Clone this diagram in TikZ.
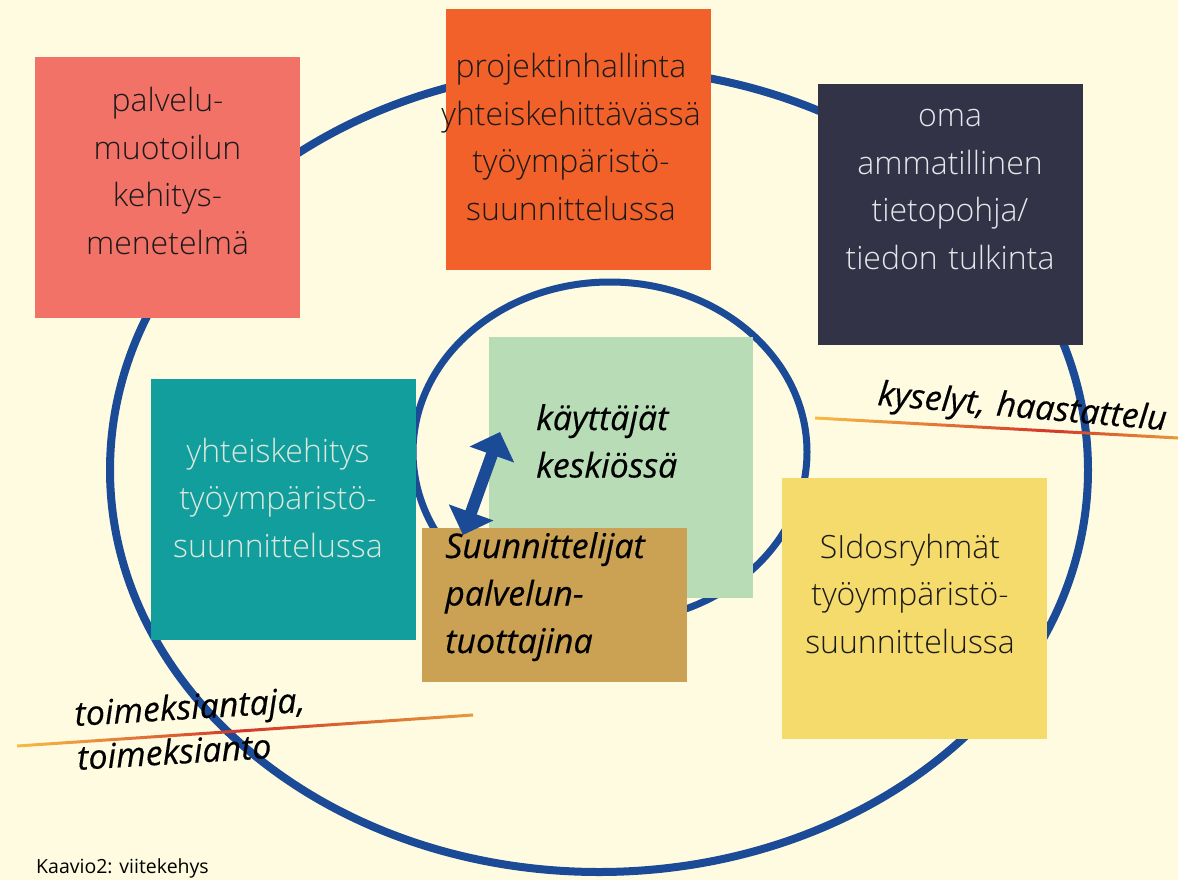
\documentclass[tikz,border=0pt]{standalone}
\usepackage{fontspec}
\usetikzlibrary{arrows.meta}
\setmainfont{Open Sans}
\IfFontExistsTF{Open Sans Light}{\newfontfamily\boxfont{Open Sans Light}}{\newfontfamily\boxfont{Open Sans}}
\newfontfamily\labelfont{Open Sans}[FakeBold=0.4]

\definecolor{paper}{HTML}{FEFBE0}
\definecolor{ringblue}{HTML}{1B4A97}
\definecolor{salmon}{HTML}{F37268}
\definecolor{tangerine}{HTML}{F26129}
\definecolor{slate}{HTML}{333348}
\definecolor{tealbox}{HTML}{129E9C}
\definecolor{mint}{HTML}{B8DDB6}
\definecolor{ochre}{HTML}{CBA253}
\definecolor{butter}{HTML}{F5DA6C}
\definecolor{ink}{HTML}{1A1A1A}
\definecolor{pale}{HTML}{E6E6EA}
\definecolor{paleteal}{HTML}{DCE8DC}
\definecolor{lnyellow}{HTML}{F7BC45}
\definecolor{lnred}{HTML}{D2372A}
\definecolor{lnorange}{HTML}{E69A3A}

\tikzset{
  ring/.style={draw=ringblue, line width=8pt},
  innerring/.style={draw=ringblue, line width=7pt},
  tile/.style={rectangle, inner sep=0pt, outer sep=0pt, draw=none,
    minimum width=265pt, minimum height=261pt},
  boxtext/.style={anchor=base, align=center, text width=320pt, inner sep=0pt,
    font=\boxfont\fontsize{32}{47.5}\selectfont},
  itlabel/.style={anchor=base west, align=left, text width=340pt, inner sep=0pt,
    text=black, font=\labelfont\itshape\fontsize{34}{47.5}\selectfont},
  twoway/.style={draw=ringblue, line width=12pt,
    {Triangle[length=24pt,width=46pt]}-{Triangle[length=24pt,width=46pt]}}
}

\begin{document}
\begin{tikzpicture}[x=1pt, y=-1pt]
  \useasboundingbox (0,0) rectangle (1178,880);
  \fill[paper] (0,0) rectangle (1178,880);

  % the two rings
  \draw[ring] (599,470) ellipse [x radius=489pt, y radius=402pt];
  \draw[innerring] (610,452) ellipse [x radius=197pt, y radius=170pt];

  % coloured tiles
  \node[tile, fill=salmon] (method) at (167.5,187.5) {};
  \node[tile, fill=tangerine] (project) at (578.5,139.5) {};
  \node[tile, fill=slate] (knowledge) at (950.5,214.5) {};
  \node[tile, fill=tealbox] (cocreation) at (283.5,509.5) {};
  \node[tile, fill=butter] (stakeholders) at (914.5,608.5) {};
  \node[tile, fill=mint, minimum width=264pt] (users) at (621,467.5) {};
  \node[tile, fill=ochre, minimum height=154pt] (designers) at (554.5,605) {};

  % two-way arrow between designers and users
  \coordinate (armLo) at (463,535);
  \coordinate (armHi) at (500,432);
  \draw[twoway] (armLo) -- (armHi);

  % tile texts
  \node[boxtext, text=ink] (methodT) at (167.5,112)
    {palvelu-\\muotoilun\\kehitys-\\menetelmä};
  \node[boxtext, text=ink] (projectT) at (571,78)
    {projektinhallinta\\yhteiskehittävässä\\työympäristö-\\suunnittelussa};
  \node[boxtext, text=pale] (knowledgeT) at (950,127)
    {oma\\ammatillinen\\tietopohja/\\tiedon tulkinta};
  \node[boxtext, text=paleteal] (cocreationT) at (278,462)
    {yhteiskehitys\\työympäristö-\\suunnittelussa};
  \node[boxtext, text=ink] (stakeholdersT) at (910,558)
    {SIdosryhmät\\työympäristö-\\suunnittelussa};
  \node[itlabel] (usersT) at (536,430) {käyttäjät\\keskiössä};
  \node[itlabel] (designersT) at (445,558) {Suunnittelijat\\palvelun-\\tuottajina};

  % graded strokes
  \shade[left color=lnyellow, right color=lnred]
    (815,416.5) -- (1050,429.5) -- (1050,432.5) -- (815,419.5) -- cycle;
  \shade[left color=lnred, right color=lnorange]
    (1050,429.5) -- (1178,436.5) -- (1178,439.5) -- (1050,432.5) -- cycle;
  \shade[left color=lnyellow, right color=lnred]
    (17,744.5) -- (240,729.5) -- (240,732.5) -- (17,747.5) -- cycle;
  \shade[left color=lnred, right color=lnorange]
    (240,729.5) -- (473,713.5) -- (473,716.5) -- (240,732.5) -- cycle;

  % tilted labels
  \node[itlabel, rotate=-5] (surveys) at (877,405) {kyselyt, haastattelu};
  \node[itlabel, rotate=3.5, font=\labelfont\itshape\fontsize{34}{44}\selectfont]
    (commission) at (75,726) {toimeksiantaja,\\toimeksianto};

  % caption
  \node[anchor=base west, inner sep=0pt, font=\fontsize{19.5}{22}\selectfont]
    (caption) at (36,873) {Kaavio2: viitekehys};
\end{tikzpicture}
\end{document}
